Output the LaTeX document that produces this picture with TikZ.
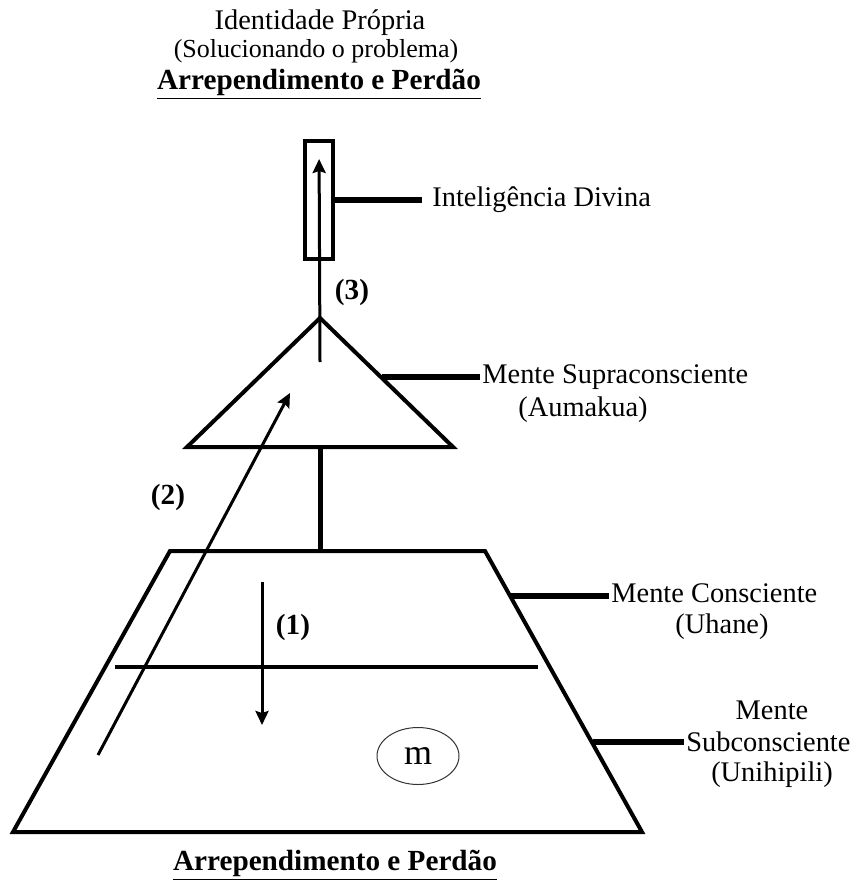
\documentclass[tikz,border=0pt]{standalone}
\usepackage{fontspec}
\setmainfont{Liberation Serif}
\usetikzlibrary{positioning,arrows.meta,shapes.geometric}

\begin{document}
\begin{tikzpicture}[x=0.5pt,y=-0.5pt,
    outline/.style={line width=2pt,line join=miter},
    lead/.style={line width=3pt},
    flow/.style={line width=1.5pt,-{Stealth[length=7pt,width=6.5pt,inset=1pt]}},
    lbl/.style={font=\fontsize{14.2}{15.5}\selectfont,inner sep=0pt},
    num/.style={font=\fontsize{14.6}{16}\selectfont\bfseries,inner sep=0pt}]
  \useasboundingbox (0,0) rectangle (859,882);

  % titulo
  \node[lbl] (ident) at (320,23) {Identidade Própria};
  \node[lbl,font=\fontsize{13}{15}\selectfont] (sol) at (316,51) {(Solucionando o problema)};
  \node[num] (topa) at (319,84) {\underline{Arrependimento e Perdão}};

  % caixa, triangulo e trapezio
  \node[draw,line width=2pt,minimum width=14pt,minimum height=59pt] (divbox) at (319,200) {};
  \coordinate (apex) at (320,318);
  \coordinate (tl) at (187,447);
  \coordinate (tr) at (453,447);
  \draw[outline] (apex) -- (tr) -- (tl) -- cycle;

  \coordinate (ptl) at (170,551);
  \coordinate (ptr) at (485,551);
  \coordinate (pbr) at (642,832);
  \coordinate (pbl) at (13,832);
  \draw[outline] (ptl) -- (ptr) -- (pbr) -- (pbl) -- cycle;
  \coordinate (dl) at (115,667);
  \coordinate (dr) at (538,667);
  \draw[outline] (dl) -- (dr);

  \coordinate (tbase) at (320,447);
  \coordinate (ptop) at (320,551);
  \draw[line width=2.5pt] (tbase) -- (ptop);

  \node[draw=black!80,ellipse,line width=0.5pt,minimum width=41pt,minimum height=28.5pt,
    inner sep=0pt,font=\fontsize{18}{20}\selectfont] (m) at (418,756) {m};

  % rotulos
  \node[lbl,anchor=west] (divina) at (432,200) {Inteligência Divina};
  \node[lbl,anchor=west] (supra) at (482,377) {Mente Supraconsciente};
  \node[lbl] (aumakua) at (583,410) {(Aumakua)};
  \node[lbl,anchor=west] (consc) at (611,593) {Mente Consciente};
  \node[lbl] (uhane) at (722,627) {(Uhane)};
  \node[lbl] (mente) at (772,710) {Mente};
  \node[lbl,anchor=west] (subc) at (686,742) {Subconsciente};
  \node[lbl] (unihi) at (772,775) {(Unihipili)};
  \node[num] (bota) at (335,865) {\underline{Arrependimento e Perdão}};

  \coordinate (tside) at (382,377);
  \coordinate (cside) at (510,596);
  \coordinate (sside) at (593,742);
  \draw[lead,shorten >=5pt] (divbox.east) -- (divina.west);
  \draw[lead,shorten >=1pt] (tside) -- (supra.west);
  \draw[lead,shorten >=1pt] (cside) -- (consc.west |- cside);
  \draw[lead,shorten >=1pt] (sside) -- (subc.west);

  % setas
  \node[num] (n1) at (293,627) {(1)};
  \node[num] (n2) at (168,497) {(2)};
  \node[num] (n3) at (352,292) {(3)};
  \coordinate (s1) at (262,582);
  \coordinate (e1) at (262,725);
  \coordinate (s2) at (98,755);
  \coordinate (e2) at (290,393);
  \coordinate (s3) at (320,362);

  \path[flow]
    (s1) edge (e1)
    (s2) edge (e2)
    (s3) edge[shorten >=10pt] (divbox.north);
\end{tikzpicture}
\end{document}
